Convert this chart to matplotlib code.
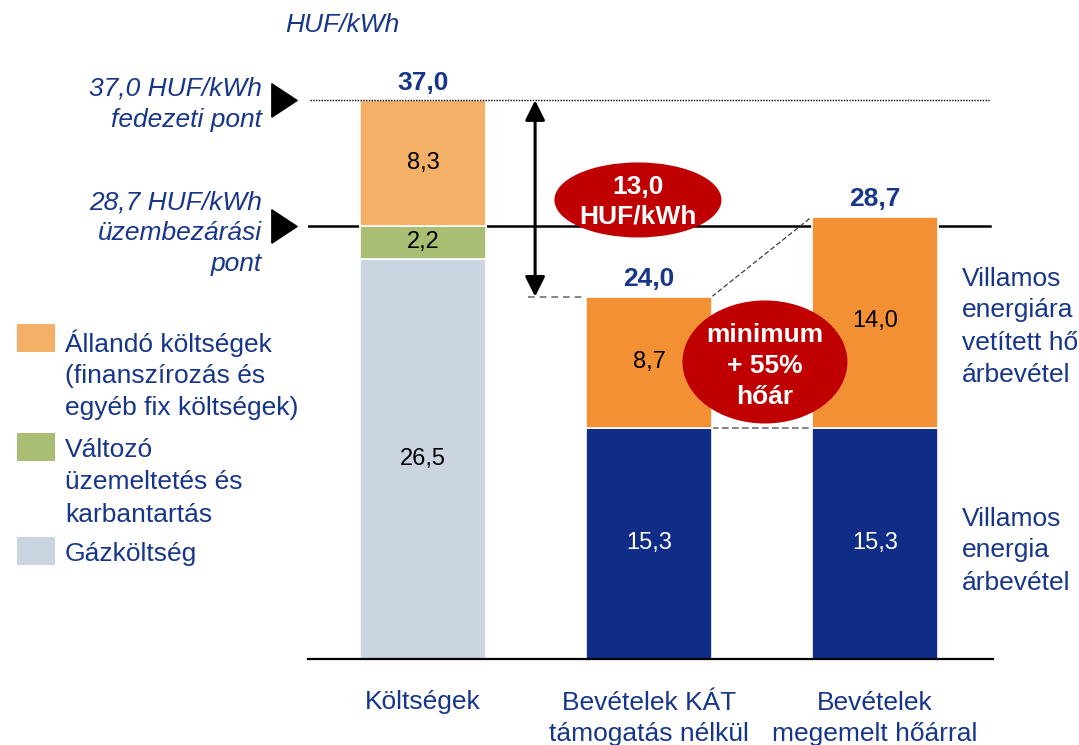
import matplotlib
matplotlib.use("Agg")
import matplotlib.pyplot as plt
from matplotlib.patches import Ellipse, Rectangle

plt.rcParams['font.family'] = ['Liberation Sans', 'DejaVu Sans']

# ---- data ----
categories = ["Költségek", "Bevételek KÁT\ntámogatás nélkül", "Bevételek\nmegemelt hőárral"]
gas_cost = [26.5, 0, 0]
variable_cost = [2.2, 0, 0]
fixed_cost = [8.3, 0, 0]
electricity_rev = [0, 15.3, 15.3]
heat_rev = [0, 8.7, 14.0]
total_labels = ["37,0", "24,0", "28,7"]
breakeven = 37.0
shutdown = 28.7
gap_label = "13,0\nHUF/kWh"
legend_labels = ["Állandó költségek\n(finanszírozás és\negyéb fix költségek)",
                 "Változó\nüzemeltetés és\nkarbantartás",
                 "Gázköltség"]

W, H = 1079, 745
fig = plt.figure(figsize=(W / 100, H / 100), dpi=100)

def fx(x):
    return x / W

def fy(y):
    return 1 - y / H

LS = 32  # px between lines

def lines(x, ycenter_first, text, ha='left', step=LS, **kw):
    for k, ln in enumerate(text.split("\n")):
        fig.text(fx(x), fy(ycenter_first + k * step), ln, ha=ha, va='center_baseline', **kw)

# axes: x unit = 226 px, x=0 at 423 px; y unit = 15.1 px, y=0 at 659 px
x0px, xu = 423, 226
y0px, yu = 659, 15.1
xl, xr = -0.509, 2.522
yt = 40
ax = fig.add_axes([fx(x0px + xl * xu), fy(y0px), (xr - xl) * xu / W, yt * yu / H])
ax.set_xlim(xl, xr)
ax.set_ylim(0, yt)
ax.axis('off')

def dx(x):
    return x0px + x * xu

TXT = '#17368A'
C_GAS = '#CBD5E1'
C_VAR = '#A9BE72'
C_FIX = '#F4B066'
C_BLUE = '#0F2D87'
C_ORG = '#F39033'
C_RED = '#C00000'
FS = 19

xs = [0, 1, 2]
bw = 0.557
kw = dict(width=bw, edgecolor='white', linewidth=1.2, zorder=2)
ax.bar(xs, gas_cost, color=C_GAS, **kw)
b1 = [g + v for g, v in zip(gas_cost, variable_cost)]
ax.bar(xs, variable_cost, bottom=gas_cost, color=C_VAR, **kw)
ax.bar(xs, fixed_cost, bottom=b1, color=C_FIX, **kw)
ax.bar(xs, electricity_rev, color=C_BLUE, **kw)
ax.bar(xs, heat_rev, bottom=electricity_rev, color=C_ORG, **kw)

# baseline
ax.plot([xl, xr], [0, 0], color='black', lw=1.6, clip_on=False, zorder=3)

# reference lines
ax.plot([-0.50, 2.51], [breakeven, breakeven], color='black', lw=1.0, ls=(0, (1, 1)), zorder=3)
ax.plot([-0.509, 2.51], [shutdown, shutdown], color='black', lw=1.8, zorder=1)

# triangles
tri = [(-0.76, -1), (-0.76, 1), (0.76, 0), (-0.76, -1)]
ax.plot([-0.613, -0.613], [breakeven, shutdown], marker=tri, ms=24, color='black', ls='none', clip_on=False)

fs_in = 17
# segment labels
ax.text(0, gas_cost[0] / 2, "26,5", ha='center', va='center', fontsize=fs_in, color='black', zorder=4)
ax.text(0, gas_cost[0] + variable_cost[0] / 2, "2,2", ha='center', va='center', fontsize=fs_in, color='black', zorder=4)
ax.text(0, b1[0] + fixed_cost[0] / 2, "8,3", ha='center', va='center', fontsize=fs_in, color='black', zorder=4)
for i in (1, 2):
    ax.text(i, electricity_rev[i] / 2, "15,3", ha='center', va='center', fontsize=fs_in, color='white', zorder=4)
ax.text(1, electricity_rev[1] + heat_rev[1] / 2, "8,7", ha='center', va='center', fontsize=fs_in, color='black', zorder=4)
ax.text(2, 22.4, "14,0", ha='center', va='center', fontsize=fs_in, color='black', zorder=4)

# totals
tops = [b1[0] + fixed_cost[0], electricity_rev[1] + heat_rev[1], electricity_rev[2] + heat_rev[2]]
for i, (t, lab) in enumerate(zip(tops, total_labels)):
    ax.text(i, t + 1.3, lab, ha='center', va='center_baseline', fontsize=FS, fontweight='bold', color=TXT, zorder=4)

# double arrow
ax.annotate('', xy=(0.496, breakeven), xytext=(0.496, tops[1]),
            arrowprops=dict(arrowstyle='<|-|>', color='black', lw=2.2, mutation_scale=30, shrinkA=0, shrinkB=0), zorder=5)

# dashed connectors
ax.plot([0.465, 1 - bw / 2], [tops[1], tops[1]], color='#707070', lw=1.2, ls=(0, (4, 3)), zorder=1)
ax.plot([1 + bw / 2, 2 - bw / 2], [tops[1], tops[2]], color='#404040', lw=0.9, ls=(0, (4, 2)), zorder=1)
ax.plot([1 + bw / 2, 2 - bw / 2], [electricity_rev[1], electricity_rev[2]], color='#707070', lw=1.2, ls=(0, (4, 2)), zorder=1)

# ellipses
e1 = Ellipse((0.951, 30.4), 0.739, 4.97, facecolor=C_RED, edgecolor='none', zorder=6)
ax.add_patch(e1)
e2 = Ellipse((1.513, 19.67), 0.730, 8.15, facecolor=C_RED, edgecolor='none', zorder=6)
ax.add_patch(e2)
lines(dx(0.951), 184, gap_label, ha='center', step=30, fontsize=FS, fontweight='bold', color='white', zorder=7)
lines(dx(1.513), 332, "minimum\n+ 55%\nhőár", ha='center', step=31.5, fontsize=FS, fontweight='bold',
      color='white', zorder=7)

# category labels
for i, c in enumerate(categories):
    lines(dx(i), 700, c, ha='center', fontsize=FS, color=TXT)

# unit label
lines(285, 22, "HUF/kWh", fontsize=FS, style='italic', color=TXT)

# left labels
lines(262, 86, "37,0 HUF/kWh\nfedezeti pont", ha='right', fontsize=FS, style='italic', color=TXT)
lines(262, 200, "28,7 HUF/kWh\nüzembezárási\npont", ha='right', step=31, fontsize=FS, style='italic', color=TXT)

# legend
leg_colors = [C_FIX, C_VAR, C_GAS]
leg_tops = [324, 433, 537]
leg_first = [341, 448, 552]
for col, top, yc, lab in zip(leg_colors, leg_tops, leg_first, legend_labels):
    fig.patches.append(Rectangle((fx(17), fy(top + 28)), 38 / W, 28 / H, transform=fig.transFigure,
                                 facecolor=col, edgecolor='none'))
    lines(65, yc, lab, fontsize=FS, color=TXT)

# right labels
lines(962, 276, "Villamos\nenergiára\nvetített hő\nárbevétel", fontsize=FS, color=TXT)
lines(962, 516, "Villamos\nenergia\nárbevétel", fontsize=FS, color=TXT)

fig.savefig("out.png", dpi=100)
